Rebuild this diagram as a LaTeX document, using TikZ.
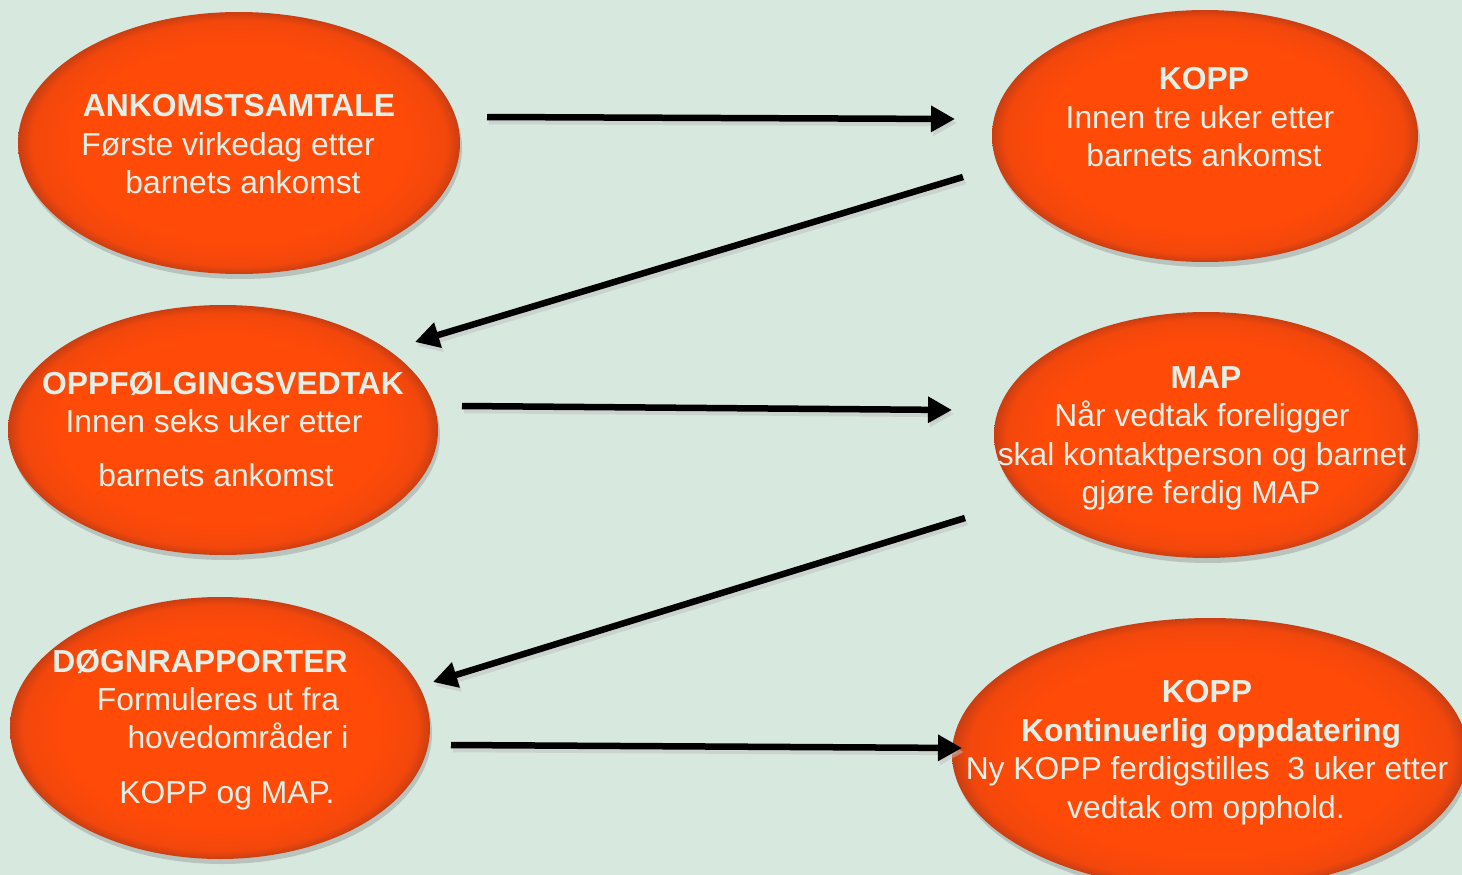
\documentclass[tikz,border=0pt]{standalone}
\usepackage{fontspec}
\setmainfont{Liberation Sans}
\usetikzlibrary{arrows.meta,shapes.geometric,shadows}
\definecolor{bgc}{HTML}{D7E8DF}
\definecolor{ovA}{HTML}{FF4A08}
\definecolor{ovB}{HTML}{F2470C}
\definecolor{ovC}{HTML}{C93E12}
\definecolor{txc}{HTML}{E3EFE7}
\pgfdeclareradialshading{ovalshade}{\pgfpoint{0bp}{0bp}}{color(0bp)=(ovA); color(19bp)=(ovA); color(23.5bp)=(ovB); color(25bp)=(ovC); color(50bp)=(ovC)}
\tikzset{
  oval/.style={ellipse, inner sep=0pt, shading=ovalshade,
    drop shadow={opacity=0.35, shadow xshift=2pt, shadow yshift=-5pt}},
  ttl/.style={text=txc, font=\fontsize{31.8}{36}\selectfont\bfseries, inner sep=0pt, anchor=base},
  bod/.style={text=txc, font=\fontsize{31.8}{36}\selectfont, inner sep=0pt, anchor=base},
  arr/.style={line width=6.5pt, -{Triangle[length=24pt,width=25pt]}, black}
}
\begin{document}
\begin{tikzpicture}[x=1pt,y=-1pt]
\useasboundingbox (0,0) rectangle (1462,875);
\fill[bgc] (0,0) rectangle (1462,875);
% ovals
\node[oval, minimum width=442pt, minimum height=262pt] (e1) at (239,143) {};
\node[oval, minimum width=426pt, minimum height=252pt] (e2) at (1205,136) {};
\node[oval, minimum width=430pt, minimum height=250pt] (e3) at (223,430) {};
\node[oval, minimum width=424pt, minimum height=246pt] (e4) at (1206,435) {};
\node[oval, minimum width=420pt, minimum height=262pt] (e5) at (220,728) {};
\node[oval, minimum width=516pt, minimum height=272pt] (e6) at (1210,754) {};
% texts
\node[ttl] (t1a) at (239,116) {ANKOMSTSAMTALE};
\node[bod] (t1b) at (228,155) {Første virkedag etter};
\node[bod] (t1c) at (243,193) {barnets ankomst};
\node[ttl] (t2a) at (1204,89) {KOPP};
\node[bod] (t2b) at (1200,128) {Innen tre uker etter};
\node[bod] (t2c) at (1204,166) {barnets ankomst};
\node[ttl] (t3a) at (223,394) {OPPFØLGINGSVEDTAK};
\node[bod] (t3b) at (214,432) {Innen seks uker etter};
\node[bod] (t3c) at (216,486) {barnets ankomst};
\node[ttl] (t4a) at (1206,388) {MAP};
\node[bod] (t4b) at (1202,426) {Når vedtak foreligger};
\node[bod] (t4c) at (1202,465) {skal kontaktperson og barnet};
\node[bod] (t4d) at (1201,503) {gjøre ferdig MAP};
\node[ttl] (t5a) at (200,672) {DØGNRAPPORTER};
\node[bod] (t5b) at (218,710) {Formuleres ut fra};
\node[bod] (t5c) at (238,748) {hovedområder i};
\node[bod] (t5d) at (227,803) {KOPP og MAP.};
\node[ttl] (t6a) at (1207,702) {KOPP};
\node[ttl] (t6b) at (1211,741) {Kontinuerlig oppdatering};
\node[bod] (t6c) at (1207,779) {Ny KOPP ferdigstilles\ \ 3 uker etter};
\node[bod] (t6d) at (1206,818) {vedtak om opphold.};
% arrow endpoints
\coordinate (a1s) at (487,117); \coordinate (a1e) at (955,119);
\coordinate (a2s) at (963,177); \coordinate (a2e) at (415,342);
\coordinate (a3s) at (462,406); \coordinate (a3e) at (952,410);
\coordinate (a4s) at (965,518); \coordinate (a4e) at (433,682);
\coordinate (a5s) at (451,745); \coordinate (a5e) at (962,748);
\foreach \s/\e in {a1s/a1e,a2s/a2e,a3s/a3e,a4s/a4e,a5s/a5e}{
  \draw[arr, black!25, opacity=0.5, transform canvas={xshift=2pt,yshift=-4pt}] (\s) -- (\e);
  \draw[arr] (\s) -- (\e);
}
\end{tikzpicture}
\end{document}
